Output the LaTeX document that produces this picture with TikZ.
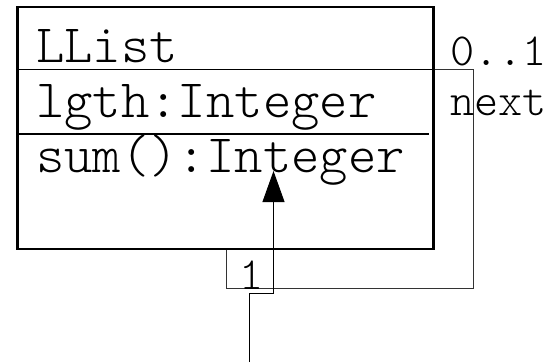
\documentclass[tikz,border=0pt]{standalone}
\usepackage{fontspec}
\newfontfamily\umlfont{Latin Modern Mono Light}
\usetikzlibrary{arrows.meta}
\begin{document}
\begin{tikzpicture}[x=1pt,y=-1pt,
  classbox/.style={draw,line width=2.4pt,minimum width=416pt,minimum height=242pt,inner sep=0pt},
  sepline/.style={line width=1.6pt},
  member/.style={anchor=base west,inner sep=0pt,font=\umlfont\fontsize{54}{54}\selectfont},
  rolelabel/.style={anchor=base west,inner sep=0pt,font=\umlfont\fontsize{46}{46}\selectfont},
  assoc/.style={line width=0.9pt,black!80},
  navarrow/.style={line width=0.9pt,-{Triangle[length=31pt,width=22pt]}}]
\useasboundingbox (0,0) rectangle (554,362);

% class box with its three compartments
\node[classbox] (llist) at (225.5,128) {};
\draw[sepline] (llist.west |- 0,69.5) -- (llist.east |- 0,69.5);
\draw[sepline] (llist.west |- 0,134) -- (429,134);
\node[member] (name) at (36,62) {LList};
\node[member] (attr) at (36,117) {lgth:Integer};
\node[member] (oper) at (36,172) {sum():Integer};

% reflexive association "next"
\coordinate (selfA) at (llist.east |- 0,69);
\coordinate (selfB) at (226,0 |- llist.south);
\draw[assoc] (selfA) -- (473,69) -- (473,288) -- (226,288) -- (selfB);
\node[rolelabel] (mult) at (450,65) {0..1};
\node[rolelabel] (role) at (450,115) {next};
\node[rolelabel] (one) at (239,289) {1};

% navigable link entering from below
\coordinate (entry) at (249,362);
\coordinate (tip) at (273.5,171);
\draw[navarrow] (entry) -- (249,293) -- (273.5,293) -- (tip);
\end{tikzpicture}
\end{document}
